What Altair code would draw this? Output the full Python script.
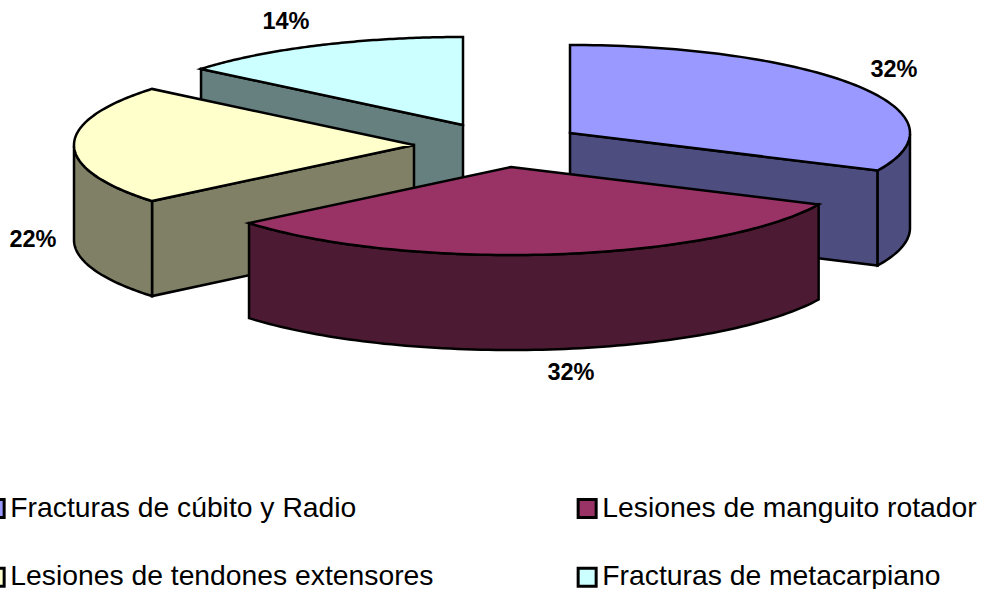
import numpy as np
import altair as alt

# Chart values
categories = ["Fracturas de cúbito y Radio", "Lesiones de manguito rotador",
              "Lesiones de tendones extensores", "Fracturas de metacarpiano"]
values = [32, 32, 22, 14]
top_colors = ["#9999FF", "#993366", "#FFFFCC", "#CCFFFF"]
side_colors = ["#4D4D80", "#4D1A33", "#808066", "#668080"]
# Vega fills legend columns first, so this order reads across in rows
legend_order = [0, 2, 1, 3]

# Exploded pie geometry: where each slice's apex sits, and the disc's shape
apexes = [(570, 133), (511, 167), (414, 145), (463, 125)]
RX, RY, DEPTH = 340, 88, 95
label_xy = [(894, 70), (571, 373), (33, 240), (286, 22)]

# Slices start at twelve o'clock and run clockwise
stops = np.cumsum([0] + values) / sum(values) * 2 * np.pi


def rim(i, t):
    x0, y0 = apexes[i]
    return [[float(x0 + RX * np.sin(a)), float(y0 - RY * np.cos(a))] for a in np.atleast_1d(t)]


def drop(points):
    return [[x, y + DEPTH] for x, y in points]


def feature(ring, **props):
    return {"type": "Feature", "properties": props,
            "geometry": {"type": "Polygon", "coordinates": [ring + [ring[0]]]}}


top_faces, side_faces = [], []
for i, name in enumerate(categories):
    t0, t1 = stops[i], stops[i + 1]
    ts = np.linspace(t0, t1, 90)
    apex = list(apexes[i])
    top_faces.append(feature([apex] + rim(i, ts), name=name))

    faces = []
    # A cut face shows only when its outward normal points towards the viewer
    for a, visible in ((t0, np.sin(t0) < -1e-9), (t1, np.sin(t1) > 1e-9)):
        if visible:
            edge = [apex] + rim(i, a)
            faces.append(edge + drop(edge)[::-1])
    # Outer wall on the near half of the rim
    near = ts[np.cos(ts) <= 0]
    if len(near) > 1:
        arc = rim(i, near)
        faces.append(arc + drop(arc)[::-1])
    side_faces.append([feature(f, fill=side_colors[i]) for f in faces])

# Back slices are painted first so the nearer ones cover them
paint_order = [3, 2, 0, 1]
side_features = [f for i in paint_order for f in side_faces[i]]

projection = alt.Projection(type="identity", scale=1, translate=[0, 0])
line_style = dict(stroke="black", strokeWidth=2.5, strokeJoin="miter")

sides = alt.Chart(alt.Data(values=side_features)).mark_geoshape(**line_style).encode(
    fill=alt.Fill("properties.fill:N", scale=None)
).project(**projection.to_dict())

tops = alt.Chart(alt.Data(values=top_faces)).mark_geoshape(**line_style).encode(
    fill=alt.Fill(
        "properties.name:N",
        scale=alt.Scale(domain=[categories[i] for i in legend_order],
                        range=[top_colors[i] for i in legend_order]),
        legend=alt.Legend(
            title=None, orient="none", legendX=-19, legendY=494, columns=2,
            columnPadding=138, rowPadding=38, symbolType="square", symbolSize=324,
            symbolStrokeColor="black", symbolStrokeWidth=3, labelFontSize=28.3,
            labelFont="Liberation Sans", labelColor="black", labelLimit=600, labelOffset=1,
        ),
    )
).project(**projection.to_dict())

label_rows = [{"lon": x, "lat": y, "text": f"{v}%"} for (x, y), v in zip(label_xy, values)]
labels = alt.Chart(alt.Data(values=label_rows)).mark_text(
    font="Liberation Sans", fontWeight="bold", fontSize=23.5, color="black"
).encode(longitude="lon:Q", latitude="lat:Q", text="text:N").project(**projection.to_dict())

chart = alt.layer(sides, tops, labels).properties(
    width=983, height=589, padding=0, autosize=alt.AutoSizeParams(type="none"),
    background="white",
).configure_view(stroke=None)

chart.save("out.html", embed_options={"renderer": "svg", "actions": False})
